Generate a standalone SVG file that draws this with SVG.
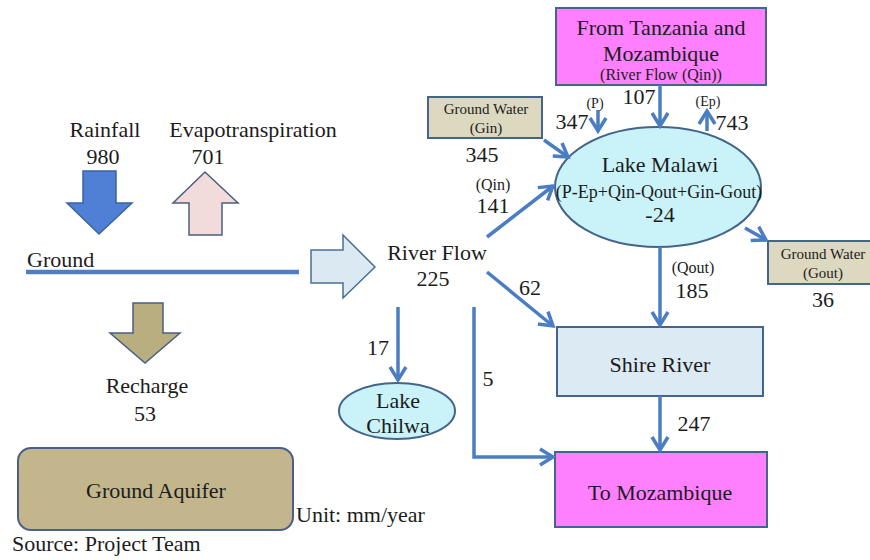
<svg xmlns="http://www.w3.org/2000/svg" width="870" height="560" viewBox="0 0 870 560" font-family="Liberation Serif, DejaVu Serif, serif">
<defs>
<style>
.t{font-family:"Liberation Serif",serif;fill:#1c1c1c}
.l{font-size:22px}
.m{font-size:18px}
.s{font-size:16px}
.gw{font-size:15px}
.xs{font-size:14px}
.c{text-anchor:middle}
.conn{fill:none;stroke:#4a7dc2;stroke-width:3.5}
.box{stroke:#44648c;stroke-width:2}
.mag{fill:#ff80ff}
.tan{fill:#ddd8c0}
.lake{fill:#c9f3f9}
</style>
<marker id="ah" markerUnits="userSpaceOnUse" markerWidth="22" markerHeight="22" viewBox="0 0 22 22" refX="17" refY="11" orient="auto">
<path d="M4,3 L17,11 L4,19" fill="none" stroke="#4a7dc2" stroke-width="3.5"/>
</marker>
</defs>
<rect width="870" height="560" fill="#ffffff"/>

<g id="rainfall">
<text class="t l c" x="105" y="137">Rainfall</text>
<text class="t l c" x="103" y="164">980</text>
<path d="M83,171 H116 V203 H132 L99,234 L67,203 H83 Z" fill="#4f80d6" stroke="#3a63a0" stroke-width="1.5"/>
</g>
<g id="evapotranspiration">
<text class="t l c" x="253" y="137">Evapotranspiration</text>
<text class="t l c" x="208" y="164">701</text>
<path d="M205,172 L238,203 H222 V235 H189 V203 H173 Z" fill="#f2dcdb" stroke="#4a5f80" stroke-width="1.5"/>
</g>
<g id="ground">
<text class="t l" x="27" y="267">Ground</text>
<line x1="26" y1="272" x2="299" y2="272" stroke="#4f7fc0" stroke-width="4.5"/>
</g>
<g id="recharge">
<path d="M133,303 H163 V333 H180 L145,363 L110,333 H133 Z" fill="#b9ae80" stroke="#4a5f80" stroke-width="1.5"/>
<text class="t l c" x="147" y="393">Recharge</text>
<text class="t l c" x="145" y="421">53</text>
</g>
<g id="ground-aquifer">
<rect x="18" y="448" width="275" height="82" rx="13" fill="#c3b68d" stroke="#4a5f8a" stroke-width="2"/>
<text class="t l c" x="156" y="498">Ground Aquifer</text>
</g>
<g id="river-flow-arrow">
<path d="M311,250 H343 V235 L375,267 L343,298 V283 H311 Z" fill="#dbe9f3" stroke="#4a6f95" stroke-width="1.5"/>
</g>
<g id="river-flow">
<text class="t l c" x="437" y="260">River Flow</text>
<text class="t l c" x="433" y="286">225</text>
</g>
<g id="from-tanzania">
<rect class="box mag" x="556" y="8" width="210" height="77"/>
<text class="t l c" x="661" y="35">From Tanzania and</text>
<text class="t l c" x="661" y="61">Mozambique</text>
<text class="t s c" x="661" y="80">(River Flow (Qin))</text>
</g>
<g id="gw-gin">
<rect class="box tan" x="428" y="97" width="114" height="41"/>
<text class="t gw c" x="486" y="114">Ground Water</text>
<text class="t gw c" x="486" y="133">(Gin)</text>
</g>
<g id="lake-malawi">
<ellipse class="box lake" cx="658" cy="187" rx="103" ry="60"/>
<text class="t l c" x="660" y="172">Lake Malawi</text>
<text class="t m c" x="659" y="198">(P-Ep+Qin-Qout+Gin-Gout)</text>
<text class="t l c" x="660" y="222">-24</text>
</g>
<g id="gw-gout">
<rect class="box tan" x="768" y="241" width="106" height="43"/>
<text class="t gw c" x="823" y="259">Ground Water</text>
<text class="t gw c" x="823" y="278">(Gout)</text>
</g>
<g id="shire-river">
<rect class="box" fill="#dbeaf3" x="557" y="327" width="206" height="69"/>
<text class="t l c" x="660" y="372">Shire River</text>
</g>
<g id="to-mozambique">
<rect class="box mag" x="555" y="452" width="212" height="75"/>
<text class="t l c" x="660" y="500">To Mozambique</text>
</g>
<g id="lake-chilwa">
<ellipse class="box lake" cx="397" cy="411" rx="58" ry="28"/>
<text class="t l c" x="398" y="408">Lake</text>
<text class="t l c" x="398" y="433">Chilwa</text>
</g>

<g id="connectors">
<line class="conn" x1="660" y1="85" x2="660" y2="126" marker-end="url(#ah)"/>
<line class="conn" x1="598" y1="110" x2="598" y2="131" marker-end="url(#ah)"/>
<line class="conn" x1="707" y1="131" x2="707" y2="111" marker-end="url(#ah)"/>
<line class="conn" x1="544" y1="140" x2="568" y2="157" marker-end="url(#ah)"/>
<line class="conn" x1="487" y1="237" x2="553" y2="186" marker-end="url(#ah)"/>
<line class="conn" x1="745" y1="228" x2="766" y2="240" marker-end="url(#ah)"/>
<line class="conn" x1="660" y1="247" x2="660" y2="325" marker-end="url(#ah)"/>
<line class="conn" x1="660" y1="396" x2="660" y2="450" marker-end="url(#ah)"/>
<line class="conn" x1="487" y1="272" x2="553" y2="326" marker-end="url(#ah)"/>
<line class="conn" x1="398" y1="307" x2="398" y2="380" marker-end="url(#ah)"/>
<polyline class="conn" points="474,307 474,457 553,457" marker-end="url(#ah)"/>
</g>

<g id="labels">
<text class="t l c" x="639" y="104">107</text>
<text class="t xs c" x="595" y="108">(P)</text>
<text class="t l c" x="572" y="129">347</text>
<text class="t xs c" x="708" y="106">(Ep)</text>
<text class="t l c" x="732" y="130">743</text>
<text class="t l c" x="482" y="162">345</text>
<text class="t s c" x="493" y="190">(Qin)</text>
<text class="t l c" x="493" y="213">141</text>
<text class="t s c" x="693" y="273">(Qout)</text>
<text class="t l c" x="692" y="298">185</text>
<text class="t l c" x="823" y="307">36</text>
<text class="t l c" x="530" y="295">62</text>
<text class="t l c" x="378" y="355">17</text>
<text class="t l c" x="488" y="386">5</text>
<text class="t l c" x="694" y="431">247</text>
<text class="t l" x="296" y="522">Unit: mm/year</text>
<text class="t l" x="12" y="551">Source: Project Team</text>
</g>
</svg>
